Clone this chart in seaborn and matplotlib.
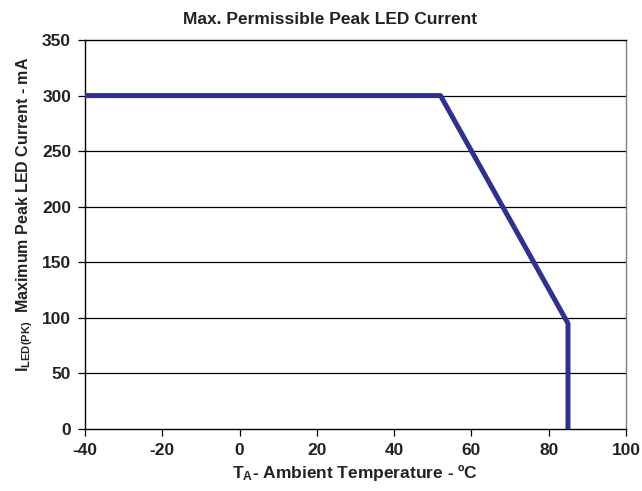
import pandas as pd
import seaborn as sns
import matplotlib.pyplot as plt

# derating curve
temp_c = [-40, 52, 85, 85]
peak_ma = [300, 300, 95, 0]

x_ticks = [-40, -20, 0, 20, 40, 60, 80, 100]
y_ticks = [0, 50, 100, 150, 200, 250, 300, 350]

sns.set_style("ticks")
plt.rcParams['font.family'] = ['Liberation Sans', 'DejaVu Sans']
plt.rcParams['font.weight'] = 'bold'
plt.rcParams['axes.unicode_minus'] = False
plt.rcParams['mathtext.fontset'] = 'custom'
plt.rcParams['mathtext.rm'] = 'Liberation Sans:bold'
plt.rcParams['mathtext.it'] = 'Liberation Sans:bold'
plt.rcParams['mathtext.default'] = 'rm'

FS = 12.5
TXT = '#222222'

df = pd.DataFrame({'temp': temp_c, 'current': peak_ma})

fig = plt.figure(figsize=(6.42, 4.91), dpi=100)
ax = fig.add_axes([0.1324, 0.1263, 0.8426, 0.7922])

for y in y_ticks[1:-1]:
    ax.axhline(y, color='black', lw=0.9, zorder=1)

# estimator=None keeps both points at 85 C instead of averaging them
sns.lineplot(data=df, x='temp', y='current', sort=False, estimator=None,
             color='#2E3192', lw=3.6, ax=ax, zorder=3)

ax.set_xlim(-40, 100)
ax.set_ylim(0, 350)
ax.set_xticks(x_ticks)
ax.set_yticks(y_ticks)
ax.tick_params(axis='both', direction='out', length=5, width=0.9, color='black',
               labelsize=FS, labelcolor=TXT)
ax.tick_params(axis='x', pad=5)
ax.tick_params(axis='y', pad=5)
for lbl in ax.get_xticklabels() + ax.get_yticklabels():
    lbl.set_fontweight('bold')

for side in ['left', 'bottom', 'top', 'right']:
    ax.spines[side].set_visible(True)
    ax.spines[side].set_color('black')
    ax.spines[side].set_linewidth(1.0)
ax.spines['right'].set_color('#808080')

fig.text(330 / 642, 1 - 20 / 491, 'Max. Permissible Peak LED Current', fontsize=FS,
         fontweight='bold', color=TXT, ha='center', va='center')
ax.set_xlabel('T$_A$- Ambient Temperature - ºC', fontsize=FS, fontweight='bold',
              color=TXT, labelpad=4)
ax.set_ylabel('')
fig.text(25 / 642, 1 - 214 / 491, 'I$_{LED(PK)}$  Maximum Peak LED Current - mA',
         fontsize=11.5, fontweight='bold', color=TXT, rotation=90,
         ha='center', va='center')

fig.savefig('out.png', dpi=100)
